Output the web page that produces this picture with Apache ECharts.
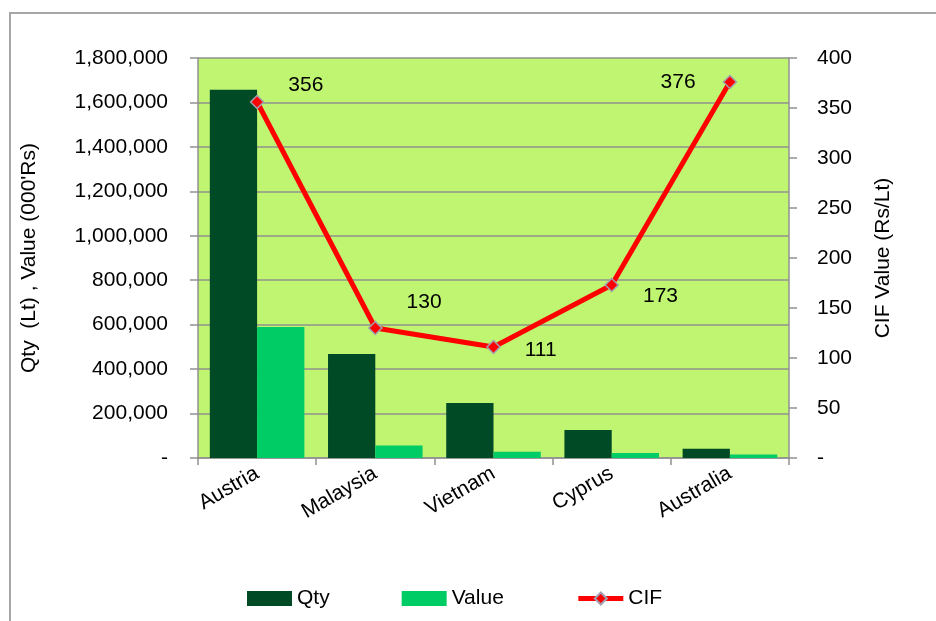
<!DOCTYPE html>
<html>
<head>
<meta charset="utf-8">
<script src="https://cdn.jsdelivr.net/npm/echarts@6/dist/echarts.min.js"></script>
<style>
  html, body { margin: 0; padding: 0; background: #fff; }
  #chart { width: 936px; height: 621px; }
</style>
</head>
<body>
<div id="chart"></div>
<script>
const categories = ['Austria', 'Malaysia', 'Vietnam', 'Cyprus', 'Australia']
const qty = [1657000, 468000, 248000, 126000, 42000]
const value = [589000, 56000, 28000, 23000, 16000]
const cif = [356, 130, 111, 173, 376]

const leftTicks = { min: 0, max: 1800000, interval: 200000 }
const rightTicks = { min: 0, max: 400, interval: 50 }

// where each CIF label sits relative to its point
const cifLabelPlace = [
  { position: 'right', dy: -17 },
  { position: 'right', dy: -26 },
  { position: 'right', dy: 3 },
  { position: 'right', dy: 11 },
  { position: 'left', dy: 0 },
]

const font = "'Liberation Sans', Arial, sans-serif"
const gridGrey = '#919191'

function fmt(v) {
  return v === 0 ? '-' : v.toLocaleString('en-US')
}

const chart = echarts.init(document.getElementById('chart'))

const option = {
  animation: false,
  textStyle: { fontFamily: font, fontSize: 21, color: '#000' },
  graphic: [
    {
      type: 'rect',
      shape: { x: 10, y: 13, width: 1000, height: 700 },
      style: { fill: 'none', stroke: '#a6a6a6', lineWidth: 2 },
      silent: true,
    },
  ],
  grid: {
    left: 198,
    right: 147,
    top: 58,
    bottom: 163,
    show: true,
    backgroundColor: '#bff570',
    borderWidth: 0,
  },
  legend: {
    left: 242,
    top: 583,
    itemWidth: 45,
    itemHeight: 15,
    itemGap: 72,
    textStyle: { fontFamily: font, fontSize: 21, color: '#000' },
    data: [
      { name: 'Qty', icon: 'rect' },
      { name: 'Value', icon: 'rect' },
      { name: 'CIF', lineStyle: { width: 5, color: '#ff0000' } },
    ],
  },
  xAxis: {
    type: 'category',
    data: categories,
    axisLine: { lineStyle: { color: gridGrey, width: 1.5 } },
    axisTick: { show: true, length: 7, lineStyle: { color: gridGrey, width: 1.5 } },
    axisLabel: { rotate: 30, margin: 14, fontSize: 21, color: '#000', fontFamily: font, interval: 0 },
  },
  yAxis: [
    {
      type: 'value',
      min: leftTicks.min,
      max: leftTicks.max,
      interval: leftTicks.interval,
      name: "Qty  (Lt) , Value (000'Rs)",
      nameLocation: 'middle',
      nameRotate: 90,
      nameGap: 158,
      nameTextStyle: { fontFamily: font, fontSize: 21, color: '#000' },
      axisLine: { show: true, lineStyle: { color: gridGrey, width: 1.5 } },
      axisTick: { show: true, length: 8, lineStyle: { color: gridGrey, width: 1.5 } },
      axisLabel: { formatter: fmt, margin: 30, fontSize: 21, color: '#000', fontFamily: font },
      splitLine: { show: true, lineStyle: { color: gridGrey, width: 1.5 } },
    },
    {
      type: 'value',
      position: 'right',
      min: rightTicks.min,
      max: rightTicks.max,
      interval: rightTicks.interval,
      name: 'CIF Value (Rs/Lt)',
      nameLocation: 'middle',
      nameRotate: 90,
      nameGap: 84,
      nameTextStyle: { fontFamily: font, fontSize: 21, color: '#000' },
      axisLine: { show: true, lineStyle: { color: gridGrey, width: 1.5 } },
      axisTick: { show: true, length: 8, lineStyle: { color: gridGrey, width: 1.5 } },
      axisLabel: { formatter: fmt, margin: 28, fontSize: 21, color: '#000', fontFamily: font },
      splitLine: { show: false },
    },
  ],
  series: [
    {
      name: 'Qty',
      type: 'bar',
      data: qty,
      barGap: '0%',
      barCategoryGap: '20%',
      itemStyle: { color: '#004a26' },
    },
    {
      name: 'Value',
      type: 'bar',
      data: value,
      itemStyle: { color: '#00cc66' },
    },
    {
      name: 'CIF',
      type: 'line',
      yAxisIndex: 1,
      z: 5,
      symbol: 'diamond',
      symbolSize: 13,
      lineStyle: { color: '#ff0000', width: 5 },
      itemStyle: { color: '#ff0000', borderColor: '#a0a0b0', borderWidth: 1.5 },
      data: cif.map((v, i) => ({
        value: v,
        label: {
          show: true,
          position: cifLabelPlace[i].position,
          distance: cifLabelPlace[i].position === 'left' ? 27 : 24,
          offset: [0, cifLabelPlace[i].dy],
          fontSize: 21,
          fontFamily: font,
          color: '#000',
        },
      })),
    },
  ],
}

chart.setOption(option)
</script>
</body>
</html>
